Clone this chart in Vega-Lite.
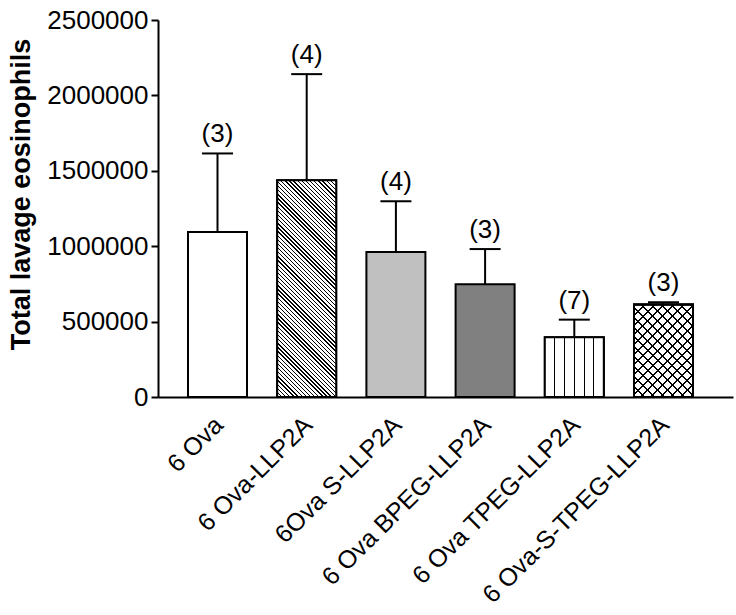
{
  "$schema": "https://vega.github.io/schema/vega-lite/v6.json",
  "width": 575,
  "height": 377,
  "autosize": {"type": "none"},
  "padding": {"left": 158, "top": 20, "right": 3, "bottom": 218},
  "background": "white",
  "config": {
    "view": {"stroke": null},
    "font": "Liberation Sans"
  },
  "data": {
    "values": [
      {"group": "6 Ova", "mean": 1094000, "upper": 1615000, "label": "(3)"},
      {"group": "6 Ova-LLP2A", "mean": 1438000, "upper": 2141000, "label": "(4)"},
      {"group": "6Ova S-LLP2A", "mean": 962000, "upper": 1298000, "label": "(4)"},
      {"group": "6 Ova BPEG-LLP2A", "mean": 747000, "upper": 981000, "label": "(3)"},
      {"group": "6 Ova TPEG-LLP2A", "mean": 397000, "upper": 513000, "label": "(7)"},
      {"group": "6 Ova-S-TPEG-LLP2A", "mean": 614000, "upper": 629000, "label": "(3)"}
    ]
  },
  "encoding": {
    "x": {
      "field": "group",
      "type": "nominal",
      "sort": null,
      "scale": {"type": "band", "paddingInner": 0.3386, "paddingOuter": 0.3924, "align": 0.4286},
      "axis": {
        "title": null,
        "ticks": false,
        "domainColor": "black",
        "domainWidth": 2,
        "labelAngle": -45,
        "labelFontSize": 25,
        "labelFont": "Liberation Sans",
        "labelColor": "black",
        "labelPadding": 15,
        "labelOffset": -7,
        "labelLimit": 500,
        "labelOverlap": false
      }
    }
  },
  "layer": [
    {
      "mark": {"type": "bar", "stroke": "black", "strokeWidth": 2},
      "encoding": {
        "y": {
          "field": "mean",
          "type": "quantitative",
          "title": "Total lavage eosinophils",
          "scale": {"domain": [0, 2500000], "nice": false},
          "axis": {
            "values": [0, 500000, 1000000, 1500000, 2000000, 2500000],
            "format": "d",
            "grid": false,
            "labelFontSize": 26,
            "labelFont": "Liberation Sans",
            "labelColor": "black",
            "labelPadding": 3,
            "labelFlush": false,
            "labelOverlap": false,
            "tickSize": 7,
            "tickWidth": 2,
            "tickColor": "black",
            "domainColor": "black",
            "domainWidth": 2,
            "titleFont": "Liberation Sans",
            "titleFontSize": 27,
            "titleFontWeight": "bold",
            "titleColor": "black",
            "titlePadding": 11,
            "titleY": 174
          }
        },
        "fill": {
          "field": "group",
          "type": "nominal",
          "sort": null,
          "scale": {
            "domain": ["6 Ova", "6 Ova-LLP2A", "6Ova S-LLP2A", "6 Ova BPEG-LLP2A", "6 Ova TPEG-LLP2A", "6 Ova-S-TPEG-LLP2A"],
            "range": ["#ffffff", "#ffffff", "#c0c0c0", "#808080", "#ffffff", "#ffffff"]
          },
          "legend": null
        }
      }
    },
    {
      "transform": [{"filter": "datum.group === '6 Ova-LLP2A'"}],
      "mark": {
        "type": "bar",
        "stroke": "black",
        "strokeWidth": 2,
        "fill": {
          "gradient": "linear",
          "x1": 0, "y1": 1, "x2": 0.3223, "y2": -0.1844,
          "stops": [
            {"offset": 0, "color": "#000"}, {"offset": 0.005, "color": "#000"}, {"offset": 0.005, "color": "#fff"}, {"offset": 0.015, "color": "#fff"},
            {"offset": 0.015, "color": "#000"}, {"offset": 0.02, "color": "#000"}, {"offset": 0.02, "color": "#fff"}, {"offset": 0.03, "color": "#fff"},
            {"offset": 0.03, "color": "#000"}, {"offset": 0.035, "color": "#000"}, {"offset": 0.035, "color": "#fff"}, {"offset": 0.045, "color": "#fff"},
            {"offset": 0.045, "color": "#000"}, {"offset": 0.05, "color": "#000"}, {"offset": 0.05, "color": "#fff"}, {"offset": 0.06, "color": "#fff"},
            {"offset": 0.06, "color": "#000"}, {"offset": 0.065, "color": "#000"}, {"offset": 0.065, "color": "#fff"}, {"offset": 0.075, "color": "#fff"},
            {"offset": 0.075, "color": "#000"}, {"offset": 0.08, "color": "#000"}, {"offset": 0.08, "color": "#fff"}, {"offset": 0.09, "color": "#fff"},
            {"offset": 0.09, "color": "#000"}, {"offset": 0.095, "color": "#000"}, {"offset": 0.095, "color": "#fff"}, {"offset": 0.105, "color": "#fff"},
            {"offset": 0.105, "color": "#000"}, {"offset": 0.11, "color": "#000"}, {"offset": 0.11, "color": "#fff"}, {"offset": 0.12, "color": "#fff"},
            {"offset": 0.12, "color": "#000"}, {"offset": 0.125, "color": "#000"}, {"offset": 0.125, "color": "#fff"}, {"offset": 0.135, "color": "#fff"},
            {"offset": 0.135, "color": "#000"}, {"offset": 0.14, "color": "#000"}, {"offset": 0.14, "color": "#fff"}, {"offset": 0.15, "color": "#fff"},
            {"offset": 0.15, "color": "#000"}, {"offset": 0.155, "color": "#000"}, {"offset": 0.155, "color": "#fff"}, {"offset": 0.165, "color": "#fff"},
            {"offset": 0.165, "color": "#000"}, {"offset": 0.17, "color": "#000"}, {"offset": 0.17, "color": "#fff"}, {"offset": 0.18, "color": "#fff"},
            {"offset": 0.18, "color": "#000"}, {"offset": 0.185, "color": "#000"}, {"offset": 0.185, "color": "#fff"}, {"offset": 0.195, "color": "#fff"},
            {"offset": 0.195, "color": "#000"}, {"offset": 0.2, "color": "#000"}, {"offset": 0.2, "color": "#fff"}, {"offset": 0.21, "color": "#fff"},
            {"offset": 0.21, "color": "#000"}, {"offset": 0.215, "color": "#000"}, {"offset": 0.215, "color": "#fff"}, {"offset": 0.225, "color": "#fff"},
            {"offset": 0.225, "color": "#000"}, {"offset": 0.23, "color": "#000"}, {"offset": 0.23, "color": "#fff"}, {"offset": 0.24, "color": "#fff"},
            {"offset": 0.24, "color": "#000"}, {"offset": 0.245, "color": "#000"}, {"offset": 0.245, "color": "#fff"}, {"offset": 0.255, "color": "#fff"},
            {"offset": 0.255, "color": "#000"}, {"offset": 0.26, "color": "#000"}, {"offset": 0.26, "color": "#fff"}, {"offset": 0.27, "color": "#fff"},
            {"offset": 0.27, "color": "#000"}, {"offset": 0.275, "color": "#000"}, {"offset": 0.275, "color": "#fff"}, {"offset": 0.285, "color": "#fff"},
            {"offset": 0.285, "color": "#000"}, {"offset": 0.29, "color": "#000"}, {"offset": 0.29, "color": "#fff"}, {"offset": 0.3, "color": "#fff"},
            {"offset": 0.3, "color": "#000"}, {"offset": 0.305, "color": "#000"}, {"offset": 0.305, "color": "#fff"}, {"offset": 0.315, "color": "#fff"},
            {"offset": 0.315, "color": "#000"}, {"offset": 0.32, "color": "#000"}, {"offset": 0.32, "color": "#fff"}, {"offset": 0.33, "color": "#fff"},
            {"offset": 0.33, "color": "#000"}, {"offset": 0.335, "color": "#000"}, {"offset": 0.335, "color": "#fff"}, {"offset": 0.345, "color": "#fff"},
            {"offset": 0.345, "color": "#000"}, {"offset": 0.35, "color": "#000"}, {"offset": 0.35, "color": "#fff"}, {"offset": 0.36, "color": "#fff"},
            {"offset": 0.36, "color": "#000"}, {"offset": 0.365, "color": "#000"}, {"offset": 0.365, "color": "#fff"}, {"offset": 0.375, "color": "#fff"},
            {"offset": 0.375, "color": "#000"}, {"offset": 0.38, "color": "#000"}, {"offset": 0.38, "color": "#fff"}, {"offset": 0.39, "color": "#fff"},
            {"offset": 0.39, "color": "#000"}, {"offset": 0.395, "color": "#000"}, {"offset": 0.395, "color": "#fff"}, {"offset": 0.405, "color": "#fff"},
            {"offset": 0.405, "color": "#000"}, {"offset": 0.41, "color": "#000"}, {"offset": 0.41, "color": "#fff"}, {"offset": 0.42, "color": "#fff"},
            {"offset": 0.42, "color": "#000"}, {"offset": 0.425, "color": "#000"}, {"offset": 0.425, "color": "#fff"}, {"offset": 0.435, "color": "#fff"},
            {"offset": 0.435, "color": "#000"}, {"offset": 0.44, "color": "#000"}, {"offset": 0.44, "color": "#fff"}, {"offset": 0.45, "color": "#fff"},
            {"offset": 0.45, "color": "#000"}, {"offset": 0.455, "color": "#000"}, {"offset": 0.455, "color": "#fff"}, {"offset": 0.465, "color": "#fff"},
            {"offset": 0.465, "color": "#000"}, {"offset": 0.47, "color": "#000"}, {"offset": 0.47, "color": "#fff"}, {"offset": 0.48, "color": "#fff"},
            {"offset": 0.48, "color": "#000"}, {"offset": 0.485, "color": "#000"}, {"offset": 0.485, "color": "#fff"}, {"offset": 0.495, "color": "#fff"},
            {"offset": 0.495, "color": "#000"}, {"offset": 0.5, "color": "#000"}, {"offset": 0.5, "color": "#fff"}, {"offset": 0.51, "color": "#fff"},
            {"offset": 0.51, "color": "#000"}, {"offset": 0.515, "color": "#000"}, {"offset": 0.515, "color": "#fff"}, {"offset": 0.525, "color": "#fff"},
            {"offset": 0.525, "color": "#000"}, {"offset": 0.53, "color": "#000"}, {"offset": 0.53, "color": "#fff"}, {"offset": 0.54, "color": "#fff"},
            {"offset": 0.54, "color": "#000"}, {"offset": 0.545, "color": "#000"}, {"offset": 0.545, "color": "#fff"}, {"offset": 0.555, "color": "#fff"},
            {"offset": 0.555, "color": "#000"}, {"offset": 0.56, "color": "#000"}, {"offset": 0.56, "color": "#fff"}, {"offset": 0.57, "color": "#fff"},
            {"offset": 0.57, "color": "#000"}, {"offset": 0.575, "color": "#000"}, {"offset": 0.575, "color": "#fff"}, {"offset": 0.585, "color": "#fff"},
            {"offset": 0.585, "color": "#000"}, {"offset": 0.59, "color": "#000"}, {"offset": 0.59, "color": "#fff"}, {"offset": 0.6, "color": "#fff"},
            {"offset": 0.6, "color": "#000"}, {"offset": 0.605, "color": "#000"}, {"offset": 0.605, "color": "#fff"}, {"offset": 0.615, "color": "#fff"},
            {"offset": 0.615, "color": "#000"}, {"offset": 0.62, "color": "#000"}, {"offset": 0.62, "color": "#fff"}, {"offset": 0.63, "color": "#fff"},
            {"offset": 0.63, "color": "#000"}, {"offset": 0.635, "color": "#000"}, {"offset": 0.635, "color": "#fff"}, {"offset": 0.645, "color": "#fff"},
            {"offset": 0.645, "color": "#000"}, {"offset": 0.65, "color": "#000"}, {"offset": 0.65, "color": "#fff"}, {"offset": 0.66, "color": "#fff"},
            {"offset": 0.66, "color": "#000"}, {"offset": 0.665, "color": "#000"}, {"offset": 0.665, "color": "#fff"}, {"offset": 0.675, "color": "#fff"},
            {"offset": 0.675, "color": "#000"}, {"offset": 0.68, "color": "#000"}, {"offset": 0.68, "color": "#fff"}, {"offset": 0.69, "color": "#fff"},
            {"offset": 0.69, "color": "#000"}, {"offset": 0.695, "color": "#000"}, {"offset": 0.695, "color": "#fff"}, {"offset": 0.705, "color": "#fff"},
            {"offset": 0.705, "color": "#000"}, {"offset": 0.71, "color": "#000"}, {"offset": 0.71, "color": "#fff"}, {"offset": 0.72, "color": "#fff"},
            {"offset": 0.72, "color": "#000"}, {"offset": 0.725, "color": "#000"}, {"offset": 0.725, "color": "#fff"}, {"offset": 0.735, "color": "#fff"},
            {"offset": 0.735, "color": "#000"}, {"offset": 0.74, "color": "#000"}, {"offset": 0.74, "color": "#fff"}, {"offset": 0.75, "color": "#fff"},
            {"offset": 0.75, "color": "#000"}, {"offset": 0.755, "color": "#000"}, {"offset": 0.755, "color": "#fff"}, {"offset": 0.765, "color": "#fff"},
            {"offset": 0.765, "color": "#000"}, {"offset": 0.77, "color": "#000"}, {"offset": 0.77, "color": "#fff"}, {"offset": 0.78, "color": "#fff"},
            {"offset": 0.78, "color": "#000"}, {"offset": 0.785, "color": "#000"}, {"offset": 0.785, "color": "#fff"}, {"offset": 0.795, "color": "#fff"},
            {"offset": 0.795, "color": "#000"}, {"offset": 0.8, "color": "#000"}, {"offset": 0.8, "color": "#fff"}, {"offset": 0.81, "color": "#fff"},
            {"offset": 0.81, "color": "#000"}, {"offset": 0.815, "color": "#000"}, {"offset": 0.815, "color": "#fff"}, {"offset": 0.825, "color": "#fff"},
            {"offset": 0.825, "color": "#000"}, {"offset": 0.83, "color": "#000"}, {"offset": 0.83, "color": "#fff"}, {"offset": 0.84, "color": "#fff"},
            {"offset": 0.84, "color": "#000"}, {"offset": 0.845, "color": "#000"}, {"offset": 0.845, "color": "#fff"}, {"offset": 0.855, "color": "#fff"},
            {"offset": 0.855, "color": "#000"}, {"offset": 0.86, "color": "#000"}, {"offset": 0.86, "color": "#fff"}, {"offset": 0.87, "color": "#fff"},
            {"offset": 0.87, "color": "#000"}, {"offset": 0.875, "color": "#000"}, {"offset": 0.875, "color": "#fff"}, {"offset": 0.885, "color": "#fff"},
            {"offset": 0.885, "color": "#000"}, {"offset": 0.89, "color": "#000"}, {"offset": 0.89, "color": "#fff"}, {"offset": 0.9, "color": "#fff"},
            {"offset": 0.9, "color": "#000"}, {"offset": 0.905, "color": "#000"}, {"offset": 0.905, "color": "#fff"}, {"offset": 0.915, "color": "#fff"},
            {"offset": 0.915, "color": "#000"}, {"offset": 0.92, "color": "#000"}, {"offset": 0.92, "color": "#fff"}, {"offset": 0.93, "color": "#fff"},
            {"offset": 0.93, "color": "#000"}, {"offset": 0.935, "color": "#000"}, {"offset": 0.935, "color": "#fff"}, {"offset": 0.945, "color": "#fff"},
            {"offset": 0.945, "color": "#000"}, {"offset": 0.95, "color": "#000"}, {"offset": 0.95, "color": "#fff"}, {"offset": 0.96, "color": "#fff"},
            {"offset": 0.96, "color": "#000"}, {"offset": 0.965, "color": "#000"}, {"offset": 0.965, "color": "#fff"}, {"offset": 0.975, "color": "#fff"},
            {"offset": 0.975, "color": "#000"}, {"offset": 0.98, "color": "#000"}, {"offset": 0.98, "color": "#fff"}, {"offset": 0.99, "color": "#fff"},
            {"offset": 0.99, "color": "#000"}, {"offset": 0.995, "color": "#000"}, {"offset": 0.995, "color": "#fff"}, {"offset": 1, "color": "#fff"}
          ]
        }
      },
      "encoding": {
        "y": {"field": "mean", "type": "quantitative", "title": "Total lavage eosinophils"}
      }
    },
    {
      "transform": [{"filter": "datum.group === '6 Ova TPEG-LLP2A'"}],
      "mark": {
        "type": "bar",
        "stroke": "black",
        "strokeWidth": 2,
        "fill": {
          "gradient": "linear",
          "x1": 0, "y1": 0, "x2": 1, "y2": 0,
          "stops": [
            {"offset": 0, "color": "#fff"}, {"offset": 0.1577, "color": "#fff"}, {"offset": 0.1577, "color": "#000"}, {"offset": 0.1757, "color": "#000"},
            {"offset": 0.1757, "color": "#fff"}, {"offset": 0.3243, "color": "#fff"}, {"offset": 0.3243, "color": "#000"}, {"offset": 0.3423, "color": "#000"},
            {"offset": 0.3423, "color": "#fff"}, {"offset": 0.491, "color": "#fff"}, {"offset": 0.491, "color": "#000"}, {"offset": 0.509, "color": "#000"},
            {"offset": 0.509, "color": "#fff"}, {"offset": 0.6577, "color": "#fff"}, {"offset": 0.6577, "color": "#000"}, {"offset": 0.6757, "color": "#000"},
            {"offset": 0.6757, "color": "#fff"}, {"offset": 0.8243, "color": "#fff"}, {"offset": 0.8243, "color": "#000"}, {"offset": 0.8423, "color": "#000"},
            {"offset": 0.8423, "color": "#fff"}, {"offset": 1, "color": "#fff"}
          ]
        }
      },
      "encoding": {
        "y": {"field": "mean", "type": "quantitative", "title": "Total lavage eosinophils"}
      }
    },
    {
      "transform": [{"filter": "datum.group === '6 Ova-S-TPEG-LLP2A'"}],
      "mark": {
        "type": "bar",
        "stroke": "black",
        "strokeWidth": 2,
        "fill": {
          "gradient": "linear",
          "x1": 0, "y1": 1, "x2": 0.7419, "y2": -0.1644,
          "stops": [
            {"offset": 0, "color": "#000"}, {"offset": 0.013, "color": "#000"}, {"offset": 0.013, "color": "rgba(0,0,0,0)"}, {"offset": 0.065, "color": "rgba(0,0,0,0)"},
            {"offset": 0.065, "color": "#000"}, {"offset": 0.078, "color": "#000"}, {"offset": 0.078, "color": "rgba(0,0,0,0)"}, {"offset": 0.13, "color": "rgba(0,0,0,0)"},
            {"offset": 0.13, "color": "#000"}, {"offset": 0.143, "color": "#000"}, {"offset": 0.143, "color": "rgba(0,0,0,0)"}, {"offset": 0.195, "color": "rgba(0,0,0,0)"},
            {"offset": 0.195, "color": "#000"}, {"offset": 0.208, "color": "#000"}, {"offset": 0.208, "color": "rgba(0,0,0,0)"}, {"offset": 0.26, "color": "rgba(0,0,0,0)"},
            {"offset": 0.26, "color": "#000"}, {"offset": 0.273, "color": "#000"}, {"offset": 0.273, "color": "rgba(0,0,0,0)"}, {"offset": 0.325, "color": "rgba(0,0,0,0)"},
            {"offset": 0.325, "color": "#000"}, {"offset": 0.338, "color": "#000"}, {"offset": 0.338, "color": "rgba(0,0,0,0)"}, {"offset": 0.39, "color": "rgba(0,0,0,0)"},
            {"offset": 0.39, "color": "#000"}, {"offset": 0.403, "color": "#000"}, {"offset": 0.403, "color": "rgba(0,0,0,0)"}, {"offset": 0.455, "color": "rgba(0,0,0,0)"},
            {"offset": 0.455, "color": "#000"}, {"offset": 0.468, "color": "#000"}, {"offset": 0.468, "color": "rgba(0,0,0,0)"}, {"offset": 0.52, "color": "rgba(0,0,0,0)"},
            {"offset": 0.52, "color": "#000"}, {"offset": 0.533, "color": "#000"}, {"offset": 0.533, "color": "rgba(0,0,0,0)"}, {"offset": 0.585, "color": "rgba(0,0,0,0)"},
            {"offset": 0.585, "color": "#000"}, {"offset": 0.598, "color": "#000"}, {"offset": 0.598, "color": "rgba(0,0,0,0)"}, {"offset": 0.65, "color": "rgba(0,0,0,0)"},
            {"offset": 0.65, "color": "#000"}, {"offset": 0.663, "color": "#000"}, {"offset": 0.663, "color": "rgba(0,0,0,0)"}, {"offset": 0.715, "color": "rgba(0,0,0,0)"},
            {"offset": 0.715, "color": "#000"}, {"offset": 0.728, "color": "#000"}, {"offset": 0.728, "color": "rgba(0,0,0,0)"}, {"offset": 0.78, "color": "rgba(0,0,0,0)"},
            {"offset": 0.78, "color": "#000"}, {"offset": 0.793, "color": "#000"}, {"offset": 0.793, "color": "rgba(0,0,0,0)"}, {"offset": 0.845, "color": "rgba(0,0,0,0)"},
            {"offset": 0.845, "color": "#000"}, {"offset": 0.858, "color": "#000"}, {"offset": 0.858, "color": "rgba(0,0,0,0)"}, {"offset": 0.91, "color": "rgba(0,0,0,0)"},
            {"offset": 0.91, "color": "#000"}, {"offset": 0.923, "color": "#000"}, {"offset": 0.923, "color": "rgba(0,0,0,0)"}, {"offset": 0.975, "color": "rgba(0,0,0,0)"},
            {"offset": 0.975, "color": "#000"}, {"offset": 0.988, "color": "#000"}, {"offset": 0.988, "color": "rgba(0,0,0,0)"}, {"offset": 1, "color": "rgba(0,0,0,0)"}
          ]
        }
      },
      "encoding": {
        "y": {"field": "mean", "type": "quantitative", "title": "Total lavage eosinophils"}
      }
    },
    {
      "transform": [{"filter": "datum.group === '6 Ova-S-TPEG-LLP2A'"}],
      "mark": {
        "type": "bar",
        "stroke": "black",
        "strokeWidth": 2,
        "fill": {
          "gradient": "linear",
          "x1": 0, "y1": 0, "x2": 0.7419, "y2": 1.1644,
          "stops": [
            {"offset": 0, "color": "#000"}, {"offset": 0.013, "color": "#000"}, {"offset": 0.013, "color": "rgba(0,0,0,0)"}, {"offset": 0.065, "color": "rgba(0,0,0,0)"},
            {"offset": 0.065, "color": "#000"}, {"offset": 0.078, "color": "#000"}, {"offset": 0.078, "color": "rgba(0,0,0,0)"}, {"offset": 0.13, "color": "rgba(0,0,0,0)"},
            {"offset": 0.13, "color": "#000"}, {"offset": 0.143, "color": "#000"}, {"offset": 0.143, "color": "rgba(0,0,0,0)"}, {"offset": 0.195, "color": "rgba(0,0,0,0)"},
            {"offset": 0.195, "color": "#000"}, {"offset": 0.208, "color": "#000"}, {"offset": 0.208, "color": "rgba(0,0,0,0)"}, {"offset": 0.26, "color": "rgba(0,0,0,0)"},
            {"offset": 0.26, "color": "#000"}, {"offset": 0.273, "color": "#000"}, {"offset": 0.273, "color": "rgba(0,0,0,0)"}, {"offset": 0.325, "color": "rgba(0,0,0,0)"},
            {"offset": 0.325, "color": "#000"}, {"offset": 0.338, "color": "#000"}, {"offset": 0.338, "color": "rgba(0,0,0,0)"}, {"offset": 0.39, "color": "rgba(0,0,0,0)"},
            {"offset": 0.39, "color": "#000"}, {"offset": 0.403, "color": "#000"}, {"offset": 0.403, "color": "rgba(0,0,0,0)"}, {"offset": 0.455, "color": "rgba(0,0,0,0)"},
            {"offset": 0.455, "color": "#000"}, {"offset": 0.468, "color": "#000"}, {"offset": 0.468, "color": "rgba(0,0,0,0)"}, {"offset": 0.52, "color": "rgba(0,0,0,0)"},
            {"offset": 0.52, "color": "#000"}, {"offset": 0.533, "color": "#000"}, {"offset": 0.533, "color": "rgba(0,0,0,0)"}, {"offset": 0.585, "color": "rgba(0,0,0,0)"},
            {"offset": 0.585, "color": "#000"}, {"offset": 0.598, "color": "#000"}, {"offset": 0.598, "color": "rgba(0,0,0,0)"}, {"offset": 0.65, "color": "rgba(0,0,0,0)"},
            {"offset": 0.65, "color": "#000"}, {"offset": 0.663, "color": "#000"}, {"offset": 0.663, "color": "rgba(0,0,0,0)"}, {"offset": 0.715, "color": "rgba(0,0,0,0)"},
            {"offset": 0.715, "color": "#000"}, {"offset": 0.728, "color": "#000"}, {"offset": 0.728, "color": "rgba(0,0,0,0)"}, {"offset": 0.78, "color": "rgba(0,0,0,0)"},
            {"offset": 0.78, "color": "#000"}, {"offset": 0.793, "color": "#000"}, {"offset": 0.793, "color": "rgba(0,0,0,0)"}, {"offset": 0.845, "color": "rgba(0,0,0,0)"},
            {"offset": 0.845, "color": "#000"}, {"offset": 0.858, "color": "#000"}, {"offset": 0.858, "color": "rgba(0,0,0,0)"}, {"offset": 0.91, "color": "rgba(0,0,0,0)"},
            {"offset": 0.91, "color": "#000"}, {"offset": 0.923, "color": "#000"}, {"offset": 0.923, "color": "rgba(0,0,0,0)"}, {"offset": 0.975, "color": "rgba(0,0,0,0)"},
            {"offset": 0.975, "color": "#000"}, {"offset": 0.988, "color": "#000"}, {"offset": 0.988, "color": "rgba(0,0,0,0)"}, {"offset": 1, "color": "rgba(0,0,0,0)"}
          ]
        }
      },
      "encoding": {
        "y": {"field": "mean", "type": "quantitative", "title": "Total lavage eosinophils"}
      }
    },
    {
      "mark": {"type": "rule", "color": "black", "strokeWidth": 2},
      "encoding": {
        "y": {"field": "mean", "type": "quantitative", "title": "Total lavage eosinophils"},
        "y2": {"field": "upper"}
      }
    },
    {
      "mark": {"type": "tick", "color": "black", "size": 31, "thickness": 2, "opacity": 1},
      "encoding": {
        "y": {"field": "upper", "type": "quantitative", "title": "Total lavage eosinophils"}
      }
    },
    {
      "mark": {"type": "text", "dy": -11, "baseline": "alphabetic", "align": "center", "fontSize": 26, "font": "Liberation Sans", "color": "black"},
      "encoding": {
        "y": {"field": "upper", "type": "quantitative", "title": "Total lavage eosinophils"},
        "text": {"field": "label"}
      }
    }
  ]
}
